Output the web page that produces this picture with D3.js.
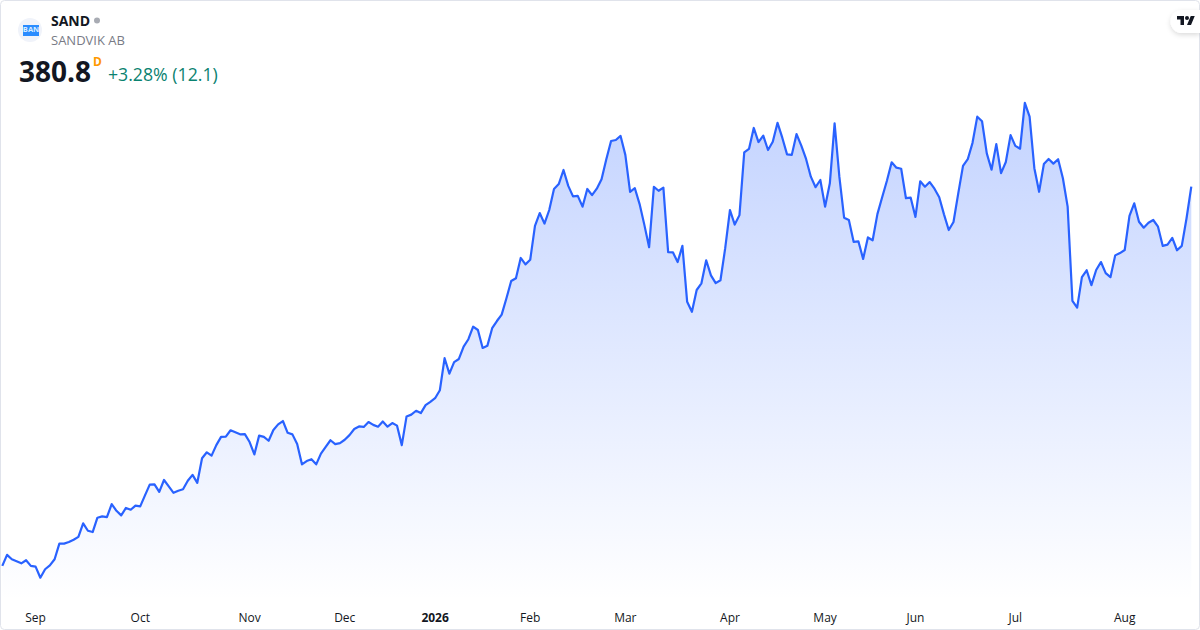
<!DOCTYPE html>
<html lang="en">
<head>
<meta charset="utf-8">
<title>SAND</title>
<script src="https://d3js.org/d3.v7.min.js"></script>
<style type="text/css">
html, body { margin: 0; padding: 0; background: #fff; }
svg { display: block; }
text { font-family: "Open Sans", "Noto Sans", sans-serif; }
.axis path, .axis line { display: none; }
.axis text { font-size: 12px; fill: #131722; }
</style>
</head>
<body>
<script>

// daily closes
var closes = [
  232.9,237.2,235.5,234.7,233.9,235.1,232.9,232.6,228.3,231.6,233.1,235.5,241.6,241.6,242.2,243.1,244.2,249.5,246.6,246.1,
  251.7,252.2,251.9,257.0,254.4,252.6,255.5,254.8,256.4,256.1,260.4,264.6,264.7,261.8,266.4,263.9,261.4,262.2,262.8,266.1,
  268.4,265.3,274.9,277.2,275.9,280.0,283.2,283.3,285.8,285.0,284.2,284.3,281.2,276.4,283.7,283.2,281.7,285.9,288.1,289.4,
  284.8,284.2,280.4,272.5,273.8,274.5,272.5,276.7,279.3,281.9,280.4,280.8,282.1,283.9,286.3,287.3,287.1,289.0,287.9,287.2,
  289.2,287.2,288.6,287.6,280.0,291.2,291.9,293.4,292.5,295.6,296.9,298.3,301.4,313.9,307.9,312.4,313.6,318.4,321.3,326.2,
  324.9,317.9,318.8,325.6,328.4,330.9,337.3,344.0,345.1,353.0,350.5,352.3,365.5,370.5,366.4,371.7,379.9,381.8,387.3,381.1,
  377.0,377.2,373.0,379.9,377.5,380.0,383.7,391.5,398.6,399.0,400.6,393.2,378.8,380.2,374.0,365.9,357.2,380.7,379.2,380.4,
  355.3,355.2,351.4,357.7,335.9,332.0,340.5,343.1,352.1,346.2,343.2,344.3,356.8,371.7,366.0,369.7,394.2,395.5,403.7,398.2,
  400.7,395.1,398.3,405.7,399.9,393.4,393.2,401.3,396.8,391.6,384.7,380.6,383.4,373.0,382.1,405.5,384.7,368.7,367.8,359.3,
  359.5,352.6,361.0,359.9,370.1,376.7,383.1,390.3,388.2,387.8,376.3,376.5,369.0,382.9,380.8,382.6,380.0,376.7,370.0,363.9,
  367.0,378.2,388.9,391.5,397.9,408.1,406.3,393.8,387.4,397.4,386.1,390.4,400.9,396.7,395.6,413.5,408.1,388.0,378.8,389.6,
  391.6,389.8,391.5,384.1,373.0,336.3,333.6,345.5,348.2,342.4,348.3,351.4,347.1,345.5,354.0,354.9,356.1,369.4,374.3,367.1,
  364.8,366.7,367.8,365.2,357.7,358.2,360.8,356.0,357.7,368.5,380.8
];

// month labels and the bar each one sits on
var tickBars = [7, 29, 52, 72, 91, 111, 131, 153, 173, 192, 213, 236];
var tickLabels = ["Sep", "Oct", "Nov", "Dec", "2026", "Feb", "Mar", "Apr", "May", "Jun", "Jul", "Aug"];

var width = 1200, height = 630;

var svg = d3.select("body").append("svg")
    .attr("width", width)
    .attr("height", height);

var defs = svg.append("defs");

var grad = defs.append("linearGradient")
    .attr("id", "fade")
    .attr("gradientUnits", "userSpaceOnUse")
    .attr("x1", 0).attr("y1", 102)
    .attr("x2", 0).attr("y2", 600);
grad.append("stop").attr("offset", 0).attr("stop-color", "#2962ff").attr("stop-opacity", 0.28);
grad.append("stop").attr("offset", 1).attr("stop-color", "#2962ff").attr("stop-opacity", 0);

var shadow = defs.append("filter").attr("id", "badge")
    .attr("x", "-30%").attr("y", "-40%").attr("width", "160%").attr("height", "200%");
shadow.append("feDropShadow")
    .attr("dx", 0).attr("dy", 2).attr("stdDeviation", 2.5)
    .attr("flood-color", "#000").attr("flood-opacity", 0.14);

var xScale = d3.scaleLinear().domain([0, closes.length - 1]).range([2.3, 1191.3]);
var yScale = d3.scaleLinear().domain([219.6, 414.6]).range([600, 100]);

var area = d3.area()
    .x(function(d, i) { return xScale(i); })
    .y0(600)
    .y1(function(d) { return yScale(d); });

var line = d3.line()
    .x(function(d, i) { return xScale(i); })
    .y(function(d) { return yScale(d); });

svg.append("path").datum(closes)
    .attr("d", area)
    .attr("fill", "url(#fade)");

svg.append("path").datum(closes)
    .attr("d", line)
    .attr("fill", "none")
    .attr("stroke", "#2962ff")
    .attr("stroke-width", 2.2)
    .attr("stroke-linejoin", "round");

var xAxis = d3.axisBottom(xScale)
    .tickValues(tickBars)
    .tickSize(0)
    .tickPadding(0)
    .tickFormat(function(d, i) { return tickLabels[i]; });

var xAxisGroup = svg.append("g")
    .attr("class", "axis")
    .attr("transform", "translate(-0.5,613)")
    .call(xAxis);

xAxisGroup.selectAll("text")
    .style("font-weight", function(d, i) { return tickLabels[i] == "2026" ? 700 : 400; });

// card border
svg.append("rect")
    .attr("x", 0.5).attr("y", 0.5)
    .attr("width", width - 1).attr("height", height - 1)
    .attr("rx", 4)
    .attr("fill", "none")
    .attr("stroke", "#e0e3eb");

// header
svg.append("circle").attr("cx", 30).attr("cy", 30).attr("r", 12).attr("fill", "#f0f3fa");
svg.append("rect").attr("x", 23).attr("y", 25).attr("width", 16).attr("height", 11).attr("fill", "#2a8cff");
svg.append("text").attr("x", 31).attr("y", 31.5).attr("text-anchor", "middle")
    .style("font-size", "7.5px").style("font-weight", 700).attr("fill", "#d8ecff").text("BAN");

svg.append("text").attr("x", 51).attr("y", 26).style("font-size", "14px").style("font-weight", 700)
    .attr("fill", "#131722").text("SAND");
svg.append("circle").attr("cx", 97).attr("cy", 20.5).attr("r", 3).attr("fill", "#a8abb3");
svg.append("text").attr("x", 51).attr("y", 45).style("font-size", "13px")
    .attr("fill", "#787b86").text("SANDVIK AB");
svg.append("text").attr("x", 19).attr("y", 82).style("font-size", "28px").style("font-weight", 700)
    .attr("fill", "#131722").text("380.8");
svg.append("text").attr("x", 93).attr("y", 66).style("font-size", "12px").style("font-weight", 700)
    .attr("fill", "#ff9800").text("D");
svg.append("text").attr("x", 108).attr("y", 81).style("font-size", "17.7px")
    .attr("fill", "#0a8270").text("+3.28% (12.1)");

// logo badge
svg.append("path")
    .attr("d", "M1200,10 H1182 A11.5,11.5 0 0 0 1182,33 H1200 Z")
    .attr("fill", "#fff")
    .attr("filter", "url(#badge)");
var logo = svg.append("g")
    .attr("transform", "translate(1177,14) scale(0.5)")
    .attr("fill", "#131722");
logo.append("path").attr("d", "M14 22H7V11H0V4h14v18zM28 22h-8l7.5-18h8L28 22z");
logo.append("circle").attr("cx", 20).attr("cy", 8).attr("r", 4);

</script>
</body>
</html>
